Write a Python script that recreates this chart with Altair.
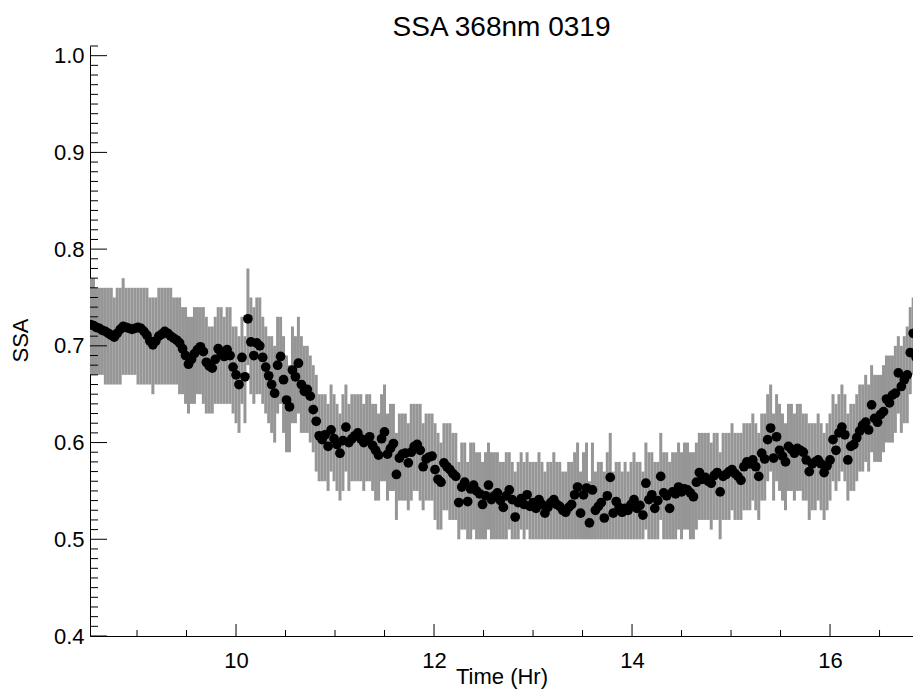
import altair as alt
import pandas as pd

# ---- data (one value every 0.03 h from 8.53 h) ----
ssa_a = [0.722,0.721,0.719,0.718,0.716,0.715,0.713,0.711,0.709,0.713,
         0.717,0.720,0.719,0.718,0.717,0.718,0.719,0.718,0.715,0.711,
         0.705,0.701,0.705,0.710,0.712,0.715,0.713,0.710,0.708,0.706,
         0.703,0.697,0.690,0.681,0.686,0.692,0.696,0.699,0.694,0.683,
         0.679,0.677,0.686,0.697,0.692,0.689,0.696,0.690,0.678,0.670,
         0.660,0.688,0.668,0.728,0.704,0.690,0.703,0.700,0.688,0.678,
         0.669,0.660,0.651,0.680,0.689,0.665,0.644,0.637,0.675,0.668,
         0.682]
hi_a = [0.77,0.77,0.76,0.76,0.76,0.76,0.76,0.76,0.75,0.76,
        0.76,0.77,0.76,0.76,0.76,0.76,0.76,0.76,0.76,0.76,
        0.75,0.75,0.75,0.76,0.76,0.76,0.76,0.76,0.75,0.75,
        0.75,0.74,0.74,0.73,0.73,0.74,0.74,0.74,0.74,0.73,
        0.72,0.72,0.73,0.74,0.74,0.73,0.74,0.74,0.72,0.72,
        0.71,0.73,0.71,0.78,0.75,0.74,0.75,0.75,0.73,0.72,
        0.71,0.71,0.70,0.73,0.73,0.71,0.69,0.68,0.72,0.71,
        0.73]
lo_a = [0.67,0.67,0.67,0.67,0.67,0.66,0.66,0.66,0.66,0.66,
        0.66,0.67,0.67,0.67,0.67,0.67,0.66,0.66,0.66,0.66,
        0.66,0.65,0.66,0.66,0.66,0.66,0.66,0.66,0.66,0.66,
        0.65,0.65,0.64,0.63,0.64,0.64,0.65,0.65,0.64,0.63,
        0.63,0.63,0.64,0.64,0.64,0.64,0.64,0.64,0.63,0.62,
        0.61,0.64,0.62,0.68,0.65,0.64,0.65,0.65,0.64,0.63,
        0.62,0.61,0.60,0.63,0.64,0.61,0.59,0.59,0.62,0.62,
        0.63]

ssa_b = [0.660,0.653,0.655,0.648,0.634,0.622,0.607,0.603,0.608,0.596,
         0.613,0.604,0.598,0.589,0.602,0.616,0.600,0.604,0.607,0.610,
         0.604,0.600,0.603,0.606,0.597,0.592,0.587,0.604,0.611,0.588,
         0.594,0.599,0.567,0.584,0.588,0.589,0.579,0.590,0.596,0.598,
         0.592,0.575,0.583,0.585,0.586,0.572,0.562,0.559,0.579,0.575,
         0.572,0.568,0.565,0.538,0.554,0.559,0.539,0.552,0.556,0.550,
         0.547,0.536,0.545,0.556,0.541,0.545,0.548,0.540,0.533,0.545]
hi_b = [0.71,0.70,0.70,0.69,0.68,0.67,0.65,0.65,0.65,0.64,
        0.66,0.65,0.64,0.63,0.65,0.66,0.64,0.65,0.65,0.65,
        0.65,0.64,0.65,0.65,0.64,0.64,0.63,0.65,0.66,0.63,
        0.64,0.64,0.61,0.63,0.63,0.63,0.62,0.64,0.64,0.64,
        0.64,0.62,0.63,0.63,0.63,0.62,0.61,0.60,0.62,0.62,
        0.62,0.61,0.61,0.58,0.60,0.60,0.58,0.60,0.60,0.59,
        0.59,0.58,0.59,0.60,0.59,0.59,0.59,0.58,0.58,0.59]
lo_b = [0.61,0.61,0.61,0.60,0.59,0.57,0.56,0.56,0.56,0.55,
        0.57,0.56,0.55,0.54,0.55,0.57,0.55,0.56,0.56,0.56,
        0.56,0.55,0.56,0.56,0.55,0.54,0.54,0.56,0.56,0.54,
        0.55,0.55,0.52,0.54,0.54,0.54,0.53,0.54,0.55,0.55,
        0.54,0.53,0.54,0.54,0.54,0.52,0.51,0.51,0.53,0.53,
        0.52,0.52,0.52,0.50,0.51,0.51,0.50,0.50,0.51,0.50,
        0.50,0.50,0.50,0.51,0.50,0.50,0.50,0.50,0.50,0.50]

ssa_c = [0.551,0.541,0.523,0.538,0.542,0.536,0.546,0.534,0.538,0.532,
         0.541,0.536,0.527,0.533,0.538,0.541,0.536,0.534,0.530,0.528,
         0.533,0.536,0.546,0.554,0.527,0.546,0.553,0.517,0.551,0.530,
         0.534,0.538,0.522,0.545,0.564,0.527,0.539,0.533,0.528,0.532,
         0.530,0.536,0.541,0.532,0.535,0.525,0.558,0.541,0.546,0.532,
         0.540,0.565,0.548,0.545,0.532,0.549,0.547,0.554,0.549,0.552,
         0.551,0.548,0.544,0.559,0.569,0.562,0.564,0.560,0.558]
hi_c = [0.59,0.58,0.57,0.58,0.59,0.58,0.59,0.58,0.58,0.58,
        0.59,0.58,0.57,0.58,0.58,0.59,0.58,0.58,0.57,0.57,
        0.58,0.58,0.59,0.60,0.57,0.59,0.60,0.56,0.60,0.57,
        0.58,0.58,0.57,0.59,0.61,0.57,0.58,0.58,0.57,0.58,
        0.57,0.58,0.59,0.58,0.58,0.57,0.60,0.59,0.59,0.58,
        0.58,0.61,0.59,0.59,0.58,0.59,0.59,0.60,0.59,0.60,
        0.60,0.59,0.59,0.60,0.61,0.61,0.61,0.61,0.60]
lo_c = [0.51,0.50,0.50,0.50,0.51,0.50,0.51,0.50,0.50,0.50,
        0.50,0.50,0.50,0.50,0.50,0.50,0.50,0.50,0.50,0.50,
        0.50,0.50,0.50,0.50,0.50,0.50,0.50,0.50,0.50,0.50,
        0.50,0.50,0.50,0.50,0.50,0.50,0.50,0.50,0.50,0.50,
        0.50,0.50,0.50,0.50,0.50,0.50,0.51,0.50,0.50,0.50,
        0.50,0.52,0.50,0.50,0.50,0.50,0.50,0.51,0.50,0.51,
        0.51,0.50,0.50,0.51,0.52,0.52,0.52,0.52,0.51]

ssa_d = [0.566,0.569,0.549,0.565,0.567,0.570,0.572,0.568,0.565,0.561,
         0.575,0.580,0.578,0.582,0.575,0.565,0.589,0.583,0.603,0.615,
         0.584,0.606,0.592,0.586,0.580,0.596,0.593,0.589,0.594,0.592,
         0.590,0.582,0.570,0.578,0.580,0.582,0.578,0.569,0.576,0.582,
         0.603,0.592,0.610,0.616,0.608,0.582,0.596,0.598,0.605,0.612,
         0.618,0.621,0.613,0.639,0.625,0.621,0.629,0.632,0.645,0.641,
         0.649,0.651,0.672,0.658,0.665,0.670,0.693,0.713,0.688,0.683]
hi_d = [0.61,0.61,0.59,0.61,0.61,0.61,0.62,0.61,0.61,0.61,
        0.62,0.62,0.62,0.63,0.62,0.61,0.63,0.63,0.65,0.66,
        0.63,0.65,0.64,0.63,0.62,0.64,0.64,0.63,0.64,0.64,
        0.63,0.63,0.62,0.62,0.62,0.63,0.62,0.61,0.62,0.63,
        0.65,0.64,0.65,0.66,0.65,0.63,0.64,0.64,0.65,0.66,
        0.66,0.67,0.66,0.68,0.67,0.67,0.67,0.68,0.69,0.69,
        0.69,0.70,0.71,0.70,0.71,0.72,0.74,0.75,0.73,0.73]
lo_d = [0.52,0.52,0.50,0.52,0.52,0.52,0.53,0.52,0.52,0.52,
        0.53,0.53,0.53,0.54,0.53,0.52,0.54,0.54,0.56,0.57,
        0.54,0.56,0.55,0.54,0.53,0.55,0.55,0.54,0.55,0.55,
        0.54,0.54,0.52,0.53,0.53,0.54,0.53,0.52,0.53,0.54,
        0.56,0.55,0.56,0.57,0.56,0.54,0.55,0.55,0.56,0.57,
        0.57,0.58,0.57,0.59,0.58,0.58,0.58,0.59,0.60,0.60,
        0.60,0.61,0.63,0.61,0.62,0.62,0.65,0.67,0.64,0.64]

ssa = ssa_a + ssa_b + ssa_c + ssa_d
ssa_hi = hi_a + hi_b + hi_c + hi_d
ssa_lo = lo_a + lo_b + lo_c + lo_d
t_start, t_step = 8.53, 0.03
time_hr = [round(t_start + t_step * i, 3) for i in range(len(ssa))]

x_major = [10, 12, 14, 16]
x_minor = [9, 9.5, 10.5, 11, 11.5, 12.5, 13, 13.5, 14.5, 15, 15.5, 16.5]
y_major = [0.4, 0.5, 0.6, 0.7, 0.8, 0.9, 1.0]
y_minor = [round(0.4 + 0.01 * k, 2) for k in range(1, 62) if k % 10 != 0]

df = pd.DataFrame({"t": time_hr, "ssa": ssa, "lo": ssa_lo, "hi": ssa_hi})

FONT = "Liberation Sans"
W, H = 823, 590
xs = alt.Scale(domain=[8.525, 16.838], nice=False, zero=False)
ys = alt.Scale(domain=[0.4, 1.01], nice=False, zero=False)

x_axis = alt.Axis(values=x_major, format="d", title="Time (Hr)", ticks=False, grid=False,
                  domainColor="black", domainWidth=1, labelFont=FONT, labelFontSize=22,
                  labelColor="black", labelPadding=14, labelFlush=False,
                  titleFont=FONT, titleFontSize=22, titleFontWeight="normal",
                  titleColor="black", titleY=47, titleBaseline="alphabetic")
y_axis = alt.Axis(values=y_major, format=".1f", title="SSA", ticks=False, grid=False,
                  domainColor="black", domainWidth=1, labelFont=FONT, labelFontSize=22,
                  labelColor="black", labelPadding=6, labelFlush=False,
                  titleFont=FONT, titleFontSize=22, titleFontWeight="normal",
                  titleColor="black", titleX=-63, titleY=294, titleAngle=270,
                  titleAlign="center", titleBaseline="alphabetic")

bars = alt.Chart(df).mark_rule(color="#969696", strokeWidth=3, clip=True).encode(
    x=alt.X("t:Q", scale=xs, axis=x_axis),
    y=alt.Y("lo:Q", scale=ys, axis=y_axis),
    y2="hi:Q",
)
pts = alt.Chart(df).mark_circle(size=95, color="black", opacity=1, clip=True).encode(
    x=alt.X("t:Q", scale=xs, axis=x_axis),
    y=alt.Y("ssa:Q", scale=ys, axis=y_axis),
)

def ytick(vals, length):
    return alt.Chart(pd.DataFrame({"v": vals})).mark_rule(color="black", strokeWidth=1).encode(
        y=alt.Y("v:Q", scale=ys, axis=y_axis), x=alt.value(0), x2=alt.value(length))

def xtick(vals, length):
    return alt.Chart(pd.DataFrame({"v": vals})).mark_rule(color="black", strokeWidth=1).encode(
        x=alt.X("v:Q", scale=xs, axis=x_axis), y=alt.value(H), y2=alt.value(H - length))

chart = alt.layer(
    bars, pts, ytick(y_major, 17), ytick(y_minor, 8), xtick(x_major, 12), xtick(x_minor, 6)
).properties(
    width=W, height=H,
    title=alt.TitleParams("SSA 368nm 0319", font=FONT, fontSize=28, fontWeight="normal",
                          color="black", anchor="middle", frame="group",
                          baseline="alphabetic", offset=11, dy=30),
    autosize=alt.AutoSizeParams(type="none"),
    padding={"left": 82, "top": 38, "right": 0, "bottom": 54},
    background="white",
).configure_view(stroke=None)

chart.save("out.html", embed_options={"renderer": "svg", "actions": False})
